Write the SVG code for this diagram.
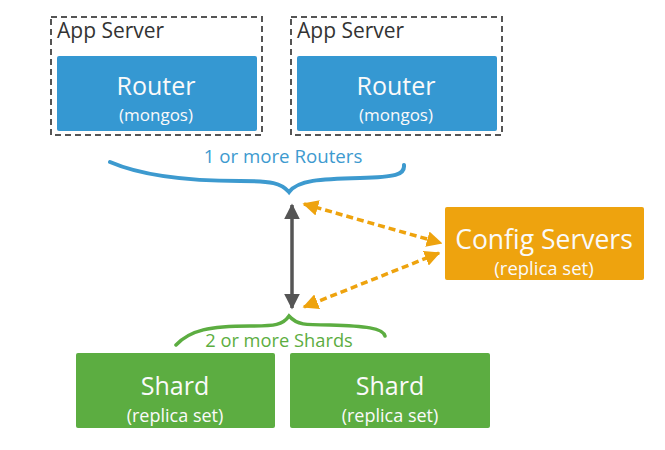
<svg xmlns="http://www.w3.org/2000/svg" width="665" height="450" viewBox="0 0 665 450">
<defs>
<style>
text{font-family:"Open Sans",Lato,"Liberation Sans",sans-serif;}
.dash{fill:none;stroke:#555;stroke-width:2;stroke-dasharray:6,4;}
.router{fill:#3598d2;}
.config{fill:#eea30e;}
.shard{fill:#5cad41;}
.big{font-size:25px;fill:#fafafa;text-anchor:middle;}
.small{font-size:17px;fill:#fafafa;text-anchor:middle;}
.lbl{font-size:21px;fill:#333;}
</style>
<marker id="ag" viewBox="0 0 10 10" refX="9" refY="5" markerWidth="4.5" markerHeight="4.5" orient="auto-start-reverse"><path d="M0,0 L10,5 L0,10 z" fill="#555"/></marker>
<marker id="ao" viewBox="0 0 10 10" refX="9" refY="5" markerWidth="4.5" markerHeight="4.5" orient="auto-start-reverse"><path d="M0,0 L10,5 L0,10 z" fill="#eea30e"/></marker>
</defs>
<g id="appserver1">
<rect class="dash" x="51" y="17" width="211" height="118"/>
<text class="lbl" x="57" y="38">App Server</text>
</g>
<g id="router1">
<rect class="router" x="57" y="56" width="200" height="75" rx="2"/>
<text class="big" x="156" y="95">Router</text>
<text class="small" x="156" y="121">(mongos)</text>
</g>
<g id="appserver2">
<rect class="dash" x="291" y="17" width="211" height="118"/>
<text class="lbl" x="297" y="38">App Server</text>
</g>
<g id="router2">
<rect class="router" x="297" y="56" width="200" height="75" rx="2"/>
<text class="big" x="396" y="95">Router</text>
<text class="small" x="396" y="121">(mongos)</text>
</g>
<g id="routers-brace">
<path d="M110,162 C140,175 180,181 240,181 C272,181 281,183 289,192 C298,180 320,179 360,178 C395,177 405,175 404,165" fill="none" stroke="#3d9acf" stroke-width="4" stroke-linecap="round"/>
<text x="283" y="163" font-size="18.7" fill="#3d9acf" text-anchor="middle">1 or more Routers</text>
</g>
<g id="config">
<rect class="config" x="445" y="207" width="199" height="73" rx="2"/>
<text class="big" x="544" y="249" font-size="26.5" style="font-size:26.5px">Config Servers</text>
<text class="small" x="544" y="275" style="font-size:18.5px">(replica set)</text>
</g>
<g id="shards-brace">
<path d="M176,345 C190,330 210,326 250,326 C275,326 283,325 289,316 C297,325 305,325 330,325 C365,326 383,328 385,336" fill="none" stroke="#5cad41" stroke-width="3.5" stroke-linecap="round"/>
<text x="279" y="347" font-size="18.3" fill="#5cad41" text-anchor="middle">2 or more Shards</text>
</g>
<g id="shard1">
<rect class="shard" x="76" y="353" width="199" height="75" rx="2"/>
<text class="big" x="175" y="395">Shard</text>
<text class="small" x="175" y="422" style="font-size:18px">(replica set)</text>
</g>
<g id="shard2">
<rect class="shard" x="290" y="353" width="200" height="75" rx="2"/>
<text class="big" x="390" y="395">Shard</text>
<text class="small" x="390" y="422" style="font-size:18px">(replica set)</text>
</g>
<g id="connectors">
<line x1="292" y1="205" x2="292" y2="308" stroke="#555" stroke-width="3.5" marker-start="url(#ag)" marker-end="url(#ag)"/>
<line x1="304" y1="204" x2="441" y2="243" stroke="#eea30e" stroke-width="3.5" stroke-dasharray="7,4" marker-start="url(#ao)" marker-end="url(#ao)"/>
<line x1="439" y1="253" x2="304" y2="307" stroke="#eea30e" stroke-width="3.5" stroke-dasharray="7,4" marker-start="url(#ao)" marker-end="url(#ao)"/>
</g>
</svg>
